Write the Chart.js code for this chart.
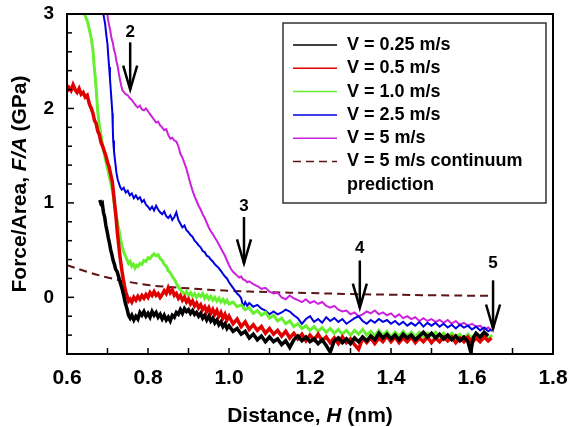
<!DOCTYPE html>
<html>
<head>
<meta charset="utf-8">
<script src="https://cdn.jsdelivr.net/npm/chart.js@4.4.1/dist/chart.umd.min.js"></script>
<style>
  html, body { margin: 0; padding: 0; background: #fff; }
  canvas { display: block; }
</style>
</head>
<body>
<canvas id="myChart" width="570" height="427"></canvas>
<script>
// H (nm), F/A (GPa)
const v025 = [[0.681,1.03],[0.684,0.99],[0.687,1.00],[0.690,0.90],[0.693,0.85],[0.696,0.76],[0.699,0.70],[0.702,0.63],[0.705,0.57],[0.708,0.50],[0.711,0.45],[0.714,0.39],[0.717,0.35],[0.720,0.30],[0.724,0.27],[0.728,0.21],[0.732,0.15],[0.736,0.09],[0.740,0.02],[0.744,-0.06],[0.748,-0.12],[0.752,-0.19],[0.756,-0.22],[0.760,-0.19],[0.765,-0.24],[0.770,-0.20],[0.775,-0.23],[0.780,-0.16],[0.785,-0.19],[0.790,-0.15],[0.795,-0.20],[0.800,-0.17],[0.805,-0.21],[0.810,-0.15],[0.815,-0.19],[0.820,-0.16],[0.825,-0.21],[0.830,-0.18],[0.835,-0.23],[0.840,-0.19],[0.845,-0.24],[0.850,-0.21],[0.855,-0.25],[0.860,-0.19],[0.865,-0.21],[0.870,-0.16],[0.875,-0.18],[0.880,-0.13],[0.885,-0.17],[0.890,-0.12],[0.895,-0.15],[0.900,-0.13],[0.905,-0.17],[0.910,-0.14],[0.915,-0.18],[0.920,-0.16],[0.925,-0.20],[0.930,-0.17],[0.935,-0.22],[0.940,-0.19],[0.945,-0.24],[0.950,-0.20],[0.955,-0.25],[0.960,-0.22],[0.965,-0.27],[0.970,-0.24],[0.975,-0.29],[0.980,-0.26],[0.985,-0.31],[0.990,-0.28],[0.995,-0.33],[1.000,-0.30],[1.010,-0.36],[1.020,-0.33],[1.030,-0.39],[1.040,-0.36],[1.050,-0.43],[1.060,-0.39],[1.070,-0.45],[1.080,-0.41],[1.090,-0.47],[1.100,-0.42],[1.110,-0.47],[1.120,-0.44],[1.130,-0.50],[1.140,-0.46],[1.150,-0.53],[1.160,-0.45],[1.170,-0.41],[1.180,-0.46],[1.190,-0.42],[1.200,-0.47],[1.210,-0.44],[1.220,-0.49],[1.230,-0.45],[1.240,-0.51],[1.250,-0.58],[1.260,-0.46],[1.270,-0.43],[1.280,-0.48],[1.290,-0.44],[1.300,-0.49],[1.310,-0.43],[1.320,-0.47],[1.330,-0.42],[1.340,-0.46],[1.350,-0.41],[1.360,-0.45],[1.370,-0.38],[1.380,-0.43],[1.390,-0.39],[1.400,-0.44],[1.410,-0.40],[1.420,-0.45],[1.430,-0.39],[1.440,-0.43],[1.450,-0.40],[1.460,-0.45],[1.470,-0.41],[1.480,-0.37],[1.490,-0.42],[1.500,-0.38],[1.510,-0.43],[1.520,-0.39],[1.530,-0.44],[1.540,-0.40],[1.550,-0.45],[1.560,-0.41],[1.570,-0.46],[1.580,-0.42],[1.590,-0.47],[1.597,-0.58],[1.603,-0.43],[1.610,-0.38],[1.620,-0.42],[1.630,-0.37],[1.640,-0.41]];

const v05 = [[0.600,2.18],[0.605,2.22],[0.610,2.19],[0.615,2.25],[0.620,2.20],[0.625,2.17],[0.630,2.21],[0.635,2.15],[0.640,2.17],[0.645,2.12],[0.650,2.14],[0.655,2.05],[0.660,2.00],[0.664,1.95],[0.668,1.87],[0.672,1.84],[0.676,1.76],[0.680,1.72],[0.684,1.64],[0.688,1.60],[0.692,1.55],[0.696,1.50],[0.700,1.43],[0.704,1.38],[0.708,1.30],[0.712,1.22],[0.715,1.10],[0.718,0.97],[0.721,0.85],[0.724,0.70],[0.727,0.58],[0.730,0.46],[0.733,0.36],[0.736,0.27],[0.739,0.19],[0.742,0.12],[0.745,0.06],[0.748,0.02],[0.752,-0.04],[0.756,-0.02],[0.760,-0.05],[0.765,0.00],[0.770,-0.03],[0.775,0.01],[0.780,-0.02],[0.785,0.02],[0.790,-0.01],[0.795,0.03],[0.800,0.00],[0.805,0.05],[0.810,0.02],[0.815,0.06],[0.820,0.02],[0.825,0.04],[0.830,0.00],[0.835,0.03],[0.840,0.07],[0.845,0.04],[0.850,0.10],[0.855,0.05],[0.860,0.08],[0.865,0.02],[0.870,0.04],[0.875,-0.01],[0.880,0.02],[0.885,-0.03],[0.890,0.00],[0.895,-0.05],[0.900,-0.02],[0.905,-0.07],[0.910,-0.04],[0.915,-0.09],[0.920,-0.06],[0.925,-0.11],[0.930,-0.08],[0.935,-0.13],[0.940,-0.10],[0.945,-0.15],[0.950,-0.11],[0.955,-0.17],[0.960,-0.13],[0.965,-0.18],[0.970,-0.14],[0.975,-0.20],[0.980,-0.16],[0.985,-0.22],[0.990,-0.18],[0.995,-0.24],[1.000,-0.20],[1.010,-0.28],[1.020,-0.23],[1.030,-0.31],[1.040,-0.26],[1.050,-0.34],[1.060,-0.29],[1.070,-0.35],[1.080,-0.31],[1.090,-0.38],[1.100,-0.33],[1.110,-0.39],[1.120,-0.35],[1.130,-0.41],[1.140,-0.36],[1.150,-0.43],[1.160,-0.38],[1.170,-0.44],[1.180,-0.39],[1.190,-0.46],[1.200,-0.40],[1.210,-0.45],[1.220,-0.39],[1.230,-0.46],[1.240,-0.42],[1.250,-0.48],[1.260,-0.43],[1.270,-0.49],[1.280,-0.42],[1.290,-0.48],[1.300,-0.44],[1.310,-0.50],[1.320,-0.55],[1.330,-0.43],[1.340,-0.48],[1.350,-0.43],[1.360,-0.49],[1.370,-0.43],[1.380,-0.47],[1.390,-0.41],[1.400,-0.47],[1.410,-0.42],[1.420,-0.48],[1.430,-0.43],[1.440,-0.47],[1.450,-0.42],[1.460,-0.48],[1.470,-0.43],[1.480,-0.47],[1.490,-0.42],[1.500,-0.48],[1.510,-0.43],[1.520,-0.47],[1.530,-0.42],[1.540,-0.46],[1.550,-0.42],[1.560,-0.48],[1.570,-0.43],[1.580,-0.47],[1.590,-0.42],[1.600,-0.48],[1.610,-0.43],[1.620,-0.47],[1.630,-0.42],[1.640,-0.46],[1.648,-0.43]];

const v10 = [[0.640,3.05],[0.645,2.98],[0.650,2.93],[0.655,2.84],[0.660,2.74],[0.664,2.62],[0.667,2.45],[0.670,2.32],[0.673,2.15],[0.676,1.96],[0.679,1.85],[0.682,1.76],[0.686,1.66],[0.690,1.56],[0.694,1.48],[0.698,1.40],[0.702,1.33],[0.706,1.25],[0.710,1.18],[0.714,1.08],[0.717,0.99],[0.720,0.92],[0.723,0.83],[0.726,0.76],[0.729,0.70],[0.732,0.62],[0.736,0.54],[0.740,0.48],[0.744,0.44],[0.748,0.40],[0.752,0.36],[0.756,0.38],[0.760,0.33],[0.764,0.35],[0.768,0.31],[0.772,0.34],[0.776,0.33],[0.780,0.36],[0.785,0.35],[0.790,0.39],[0.795,0.38],[0.800,0.42],[0.805,0.41],[0.810,0.44],[0.815,0.46],[0.820,0.44],[0.825,0.45],[0.830,0.41],[0.835,0.39],[0.840,0.35],[0.845,0.33],[0.850,0.28],[0.855,0.26],[0.860,0.22],[0.865,0.19],[0.870,0.15],[0.875,0.11],[0.880,0.08],[0.885,0.06],[0.890,0.03],[0.895,0.06],[0.900,0.02],[0.905,0.05],[0.910,0.01],[0.915,0.04],[0.920,0.00],[0.925,0.03],[0.930,0.01],[0.935,0.04],[0.940,-0.01],[0.945,0.02],[0.950,-0.02],[0.955,0.01],[0.960,-0.03],[0.965,0.00],[0.970,-0.04],[0.975,-0.01],[0.980,-0.05],[0.985,-0.02],[0.990,-0.06],[0.995,-0.03],[1.000,-0.07],[1.010,-0.05],[1.020,-0.10],[1.030,-0.08],[1.040,-0.13],[1.050,-0.11],[1.060,-0.17],[1.070,-0.14],[1.080,-0.19],[1.090,-0.16],[1.100,-0.22],[1.110,-0.19],[1.120,-0.25],[1.130,-0.22],[1.140,-0.28],[1.150,-0.25],[1.160,-0.31],[1.170,-0.28],[1.180,-0.33],[1.190,-0.30],[1.200,-0.35],[1.210,-0.31],[1.220,-0.36],[1.230,-0.32],[1.240,-0.37],[1.250,-0.33],[1.260,-0.38],[1.270,-0.34],[1.280,-0.39],[1.290,-0.35],[1.300,-0.40],[1.310,-0.35],[1.320,-0.39],[1.330,-0.34],[1.340,-0.40],[1.350,-0.36],[1.360,-0.41],[1.370,-0.35],[1.380,-0.40],[1.390,-0.36],[1.400,-0.42],[1.410,-0.37],[1.420,-0.41],[1.430,-0.36],[1.440,-0.41],[1.450,-0.37],[1.460,-0.42],[1.470,-0.37],[1.480,-0.42],[1.490,-0.38],[1.500,-0.41],[1.510,-0.37],[1.520,-0.42],[1.530,-0.38],[1.540,-0.43],[1.550,-0.38],[1.560,-0.42],[1.570,-0.39],[1.580,-0.44],[1.590,-0.39],[1.600,-0.43],[1.610,-0.38],[1.620,-0.43],[1.630,-0.39],[1.640,-0.44],[1.650,-0.40]];

const v25 = [[0.688,3.05],[0.691,2.97],[0.694,2.90],[0.697,2.78],[0.700,2.68],[0.702,2.55],[0.704,2.44],[0.706,2.32],[0.708,2.20],[0.710,2.08],[0.712,1.95],[0.713,1.80],[0.714,1.66],[0.716,1.55],[0.718,1.47],[0.720,1.40],[0.722,1.32],[0.725,1.25],[0.728,1.21],[0.731,1.17],[0.735,1.14],[0.740,1.16],[0.745,1.11],[0.750,1.13],[0.755,1.08],[0.760,1.10],[0.765,1.05],[0.770,1.08],[0.775,1.04],[0.780,1.06],[0.785,1.01],[0.790,1.03],[0.795,0.98],[0.800,0.96],[0.805,0.93],[0.810,0.96],[0.815,0.92],[0.820,0.97],[0.825,0.93],[0.830,0.90],[0.835,0.88],[0.840,0.91],[0.845,0.86],[0.850,0.84],[0.855,0.87],[0.860,0.82],[0.865,0.85],[0.870,0.90],[0.875,0.82],[0.880,0.78],[0.885,0.74],[0.890,0.76],[0.895,0.71],[0.900,0.69],[0.905,0.66],[0.910,0.64],[0.915,0.60],[0.920,0.58],[0.925,0.55],[0.930,0.53],[0.935,0.49],[0.940,0.48],[0.945,0.44],[0.950,0.43],[0.955,0.40],[0.960,0.38],[0.965,0.35],[0.970,0.33],[0.975,0.31],[0.980,0.28],[0.985,0.25],[0.990,0.22],[0.995,0.20],[1.000,0.16],[1.005,0.13],[1.010,0.10],[1.015,0.07],[1.020,0.04],[1.025,0.02],[1.030,-0.01],[1.035,-0.10],[1.040,-0.05],[1.045,-0.09],[1.050,-0.06],[1.060,-0.10],[1.070,-0.08],[1.080,-0.12],[1.090,-0.14],[1.100,-0.18],[1.110,-0.15],[1.120,-0.18],[1.130,-0.16],[1.140,-0.13],[1.150,-0.15],[1.160,-0.19],[1.170,-0.22],[1.180,-0.28],[1.190,-0.23],[1.200,-0.20],[1.210,-0.26],[1.220,-0.23],[1.230,-0.27],[1.240,-0.21],[1.250,-0.25],[1.260,-0.22],[1.270,-0.26],[1.280,-0.23],[1.290,-0.28],[1.300,-0.25],[1.310,-0.22],[1.320,-0.20],[1.330,-0.25],[1.340,-0.28],[1.350,-0.24],[1.360,-0.27],[1.370,-0.23],[1.380,-0.26],[1.390,-0.24],[1.400,-0.28],[1.410,-0.25],[1.420,-0.29],[1.430,-0.26],[1.440,-0.30],[1.450,-0.27],[1.460,-0.30],[1.470,-0.26],[1.480,-0.31],[1.490,-0.27],[1.500,-0.30],[1.510,-0.27],[1.520,-0.31],[1.530,-0.28],[1.540,-0.32],[1.550,-0.29],[1.560,-0.33],[1.570,-0.29],[1.580,-0.32],[1.590,-0.30],[1.600,-0.34],[1.610,-0.31],[1.620,-0.35],[1.630,-0.32],[1.640,-0.36],[1.648,-0.34]];

const v5 = [[0.698,3.05],[0.701,2.95],[0.704,2.88],[0.707,2.82],[0.710,2.74],[0.713,2.70],[0.716,2.62],[0.719,2.58],[0.722,2.50],[0.725,2.45],[0.728,2.37],[0.731,2.30],[0.734,2.24],[0.737,2.19],[0.741,2.17],[0.745,2.15],[0.750,2.14],[0.755,2.11],[0.760,2.09],[0.765,2.06],[0.770,2.03],[0.775,2.01],[0.780,2.03],[0.785,1.99],[0.790,1.98],[0.795,2.00],[0.800,1.97],[0.805,1.94],[0.810,1.91],[0.815,1.88],[0.820,1.85],[0.825,1.86],[0.830,1.82],[0.835,1.80],[0.840,1.77],[0.845,1.78],[0.850,1.72],[0.855,1.68],[0.860,1.69],[0.865,1.66],[0.870,1.65],[0.875,1.60],[0.880,1.52],[0.885,1.48],[0.890,1.42],[0.895,1.36],[0.900,1.28],[0.905,1.20],[0.910,1.13],[0.915,1.07],[0.920,1.02],[0.925,0.97],[0.930,0.93],[0.935,0.88],[0.940,0.84],[0.945,0.79],[0.950,0.74],[0.955,0.70],[0.960,0.67],[0.965,0.63],[0.970,0.60],[0.975,0.56],[0.980,0.52],[0.985,0.48],[0.990,0.44],[0.995,0.39],[1.000,0.34],[1.005,0.30],[1.010,0.27],[1.015,0.25],[1.020,0.23],[1.025,0.21],[1.030,0.22],[1.035,0.19],[1.040,0.18],[1.045,0.16],[1.050,0.17],[1.060,0.14],[1.070,0.12],[1.080,0.09],[1.090,0.10],[1.100,0.06],[1.110,0.04],[1.120,0.05],[1.130,0.00],[1.140,-0.02],[1.150,0.02],[1.160,-0.01],[1.170,-0.03],[1.180,-0.05],[1.190,-0.02],[1.200,-0.06],[1.210,-0.04],[1.220,-0.07],[1.230,-0.05],[1.240,-0.09],[1.250,-0.11],[1.260,-0.09],[1.270,-0.13],[1.280,-0.15],[1.290,-0.14],[1.300,-0.18],[1.310,-0.16],[1.320,-0.20],[1.330,-0.18],[1.340,-0.15],[1.350,-0.17],[1.360,-0.14],[1.370,-0.18],[1.380,-0.16],[1.390,-0.19],[1.400,-0.17],[1.410,-0.21],[1.420,-0.18],[1.430,-0.22],[1.440,-0.20],[1.450,-0.23],[1.460,-0.21],[1.470,-0.25],[1.480,-0.22],[1.490,-0.25],[1.500,-0.23],[1.510,-0.26],[1.520,-0.24],[1.530,-0.27],[1.540,-0.24],[1.550,-0.28],[1.560,-0.25],[1.570,-0.29],[1.580,-0.27],[1.590,-0.30],[1.600,-0.28],[1.610,-0.31],[1.620,-0.30],[1.630,-0.34],[1.640,-0.32],[1.650,-0.36]];

const continuum = [[0.60,0.34],[0.65,0.27],[0.70,0.21],[0.75,0.165],[0.80,0.13],[0.85,0.11],[0.90,0.095],[0.95,0.08],[1.00,0.07],[1.10,0.055],[1.20,0.045],[1.30,0.035],[1.40,0.028],[1.50,0.022],[1.65,0.015]];

const seriesLabels = [["V = 0.25 m/s"], ["V = 0.5 m/s"], ["V = 1.0 m/s"], ["V = 2.5 m/s"], ["V = 5 m/s"], ["V = 5 m/s continuum", "prediction"]];
const seriesColors = ["#000000", "#e00000", "#66f030", "#0000e0", "#cc22dd", "#5c1414"];

const xTickLabels = [0.6, 0.8, 1.0, 1.2, 1.4, 1.6, 1.8];
const yTickLabels = [0, 1, 2, 3];
const xTickMarks = [0.7, 0.8, 0.9, 1.0, 1.1, 1.2, 1.3, 1.4, 1.5, 1.6, 1.7];
const yTickMarks = [-0.4, -0.2, 0, 0.2, 0.4, 0.6, 0.8, 1, 1.2, 1.4, 1.6, 1.8, 2, 2.2, 2.4, 2.6, 2.8];

// arrows: label, H, label F, shaft top F, tip F
const arrowLabels = ["2", "3", "4", "5"];
const arrowH = [0.756, 1.037, 1.323, 1.652];
const arrowLabelF = [2.81, 0.96, 0.52, 0.36];
const arrowTopF = [2.70, 0.85, 0.39, 0.18];
const arrowTipF = [2.20, 0.36, -0.11, -0.33];

const FONT = '"Liberation Sans", Arial, sans-serif';

function pts(arr) {
  return arr.map(p => ({ x: p[0], y: p[1] }));
}

function drawParts(ctx, parts, cx, cy, size) {
  let total = 0;
  parts.forEach(p => {
    ctx.font = (p[1] ? "italic " : "") + "bold " + size + "px " + FONT;
    total += ctx.measureText(p[0]).width;
  });
  let xx = cx - total / 2;
  ctx.textAlign = "left";
  ctx.textBaseline = "middle";
  parts.forEach(p => {
    ctx.font = (p[1] ? "italic " : "") + "bold " + size + "px " + FONT;
    ctx.fillText(p[0], xx, cy);
    xx += ctx.measureText(p[0]).width;
  });
}

const extras = {
  id: "extras",
  afterDatasetsDraw(chart) {
    const { ctx, chartArea: ca, scales: { x, y } } = chart;
    ctx.save();
    ctx.strokeStyle = "#000";
    ctx.fillStyle = "#000";

    // frame
    ctx.lineWidth = 2;
    ctx.strokeRect(ca.left, ca.top, ca.right - ca.left, ca.bottom - ca.top);

    // inward ticks
    ctx.lineWidth = 1.5;
    xTickMarks.forEach(v => {
      const px = x.getPixelForValue(v);
      ctx.beginPath();
      ctx.moveTo(px, ca.bottom);
      ctx.lineTo(px, ca.bottom - 6);
      ctx.stroke();
    });
    yTickMarks.forEach(v => {
      const py = y.getPixelForValue(v);
      const len = Number.isInteger(v) ? 7 : 5;
      ctx.beginPath();
      ctx.moveTo(ca.left, py);
      ctx.lineTo(ca.left + len, py);
      ctx.stroke();
    });

    // arrows
    arrowLabels.forEach((lab, i) => {
      const px = x.getPixelForValue(arrowH[i]);
      const top = y.getPixelForValue(arrowTopF[i]);
      const tip = y.getPixelForValue(arrowTipF[i]);
      ctx.lineWidth = 2.5;
      ctx.beginPath();
      ctx.moveTo(px, top);
      ctx.lineTo(px, tip);
      ctx.stroke();
      ctx.beginPath();
      ctx.moveTo(px - 7, tip - 24);
      ctx.lineTo(px, tip);
      ctx.lineTo(px + 7, tip - 24);
      ctx.stroke();
      ctx.font = "bold 17px " + FONT;
      ctx.textAlign = "center";
      ctx.textBaseline = "middle";
      ctx.fillText(lab, px, y.getPixelForValue(arrowLabelF[i]));
    });

    // legend box
    const bx = ca.right - 270, by = ca.top + 9, bw = 263, bh = 180;
    ctx.fillStyle = "#fff";
    ctx.fillRect(bx, by, bw, bh);
    ctx.strokeStyle = "#333";
    ctx.lineWidth = 1.5;
    ctx.strokeRect(bx, by, bw, bh);
    ctx.fillStyle = "#000";
    ctx.font = "bold 18px " + FONT;
    ctx.textAlign = "left";
    ctx.textBaseline = "middle";
    let row = 0;
    chart.data.datasets.forEach((ds, i) => {
      const ry = by + 22 + row * 23.3;
      ctx.strokeStyle = ds.borderColor;
      ctx.lineWidth = 1.5;
      ctx.setLineDash(ds.borderDash || []);
      ctx.beginPath();
      ctx.moveTo(bx + 10, ry);
      ctx.lineTo(bx + 54, ry);
      ctx.stroke();
      ctx.setLineDash([]);
      seriesLabels[i].forEach((t, k) => {
        ctx.fillText(t, bx + 64, by + 22 + (row + k) * 23.3);
      });
      row += seriesLabels[i].length;
    });

    // axis titles
    ctx.fillStyle = "#000";
    drawParts(ctx, [["Distance, ", false], ["H", true], [" (nm)", false]], (ca.left + ca.right) / 2, 416, 21);
    ctx.save();
    ctx.translate(20, (ca.top + ca.bottom) / 2);
    ctx.rotate(-Math.PI / 2);
    drawParts(ctx, [["Force/Area, ", false], ["F/A", true], [" (GPa)", false]], 0, 0, 21);
    ctx.restore();

    ctx.restore();
  }
};

const allSeries = [v025, v05, v10, v25, v5, continuum];
const lineWidths = [3.5, 3.5, 3, 2, 2, 2];

const ctx = document.getElementById("myChart").getContext("2d");
const chart = new Chart(ctx, {
  type: "line",
  data: {
    datasets: allSeries.map((s, i) => ({
      label: seriesLabels[i].join(" "),
      data: pts(s),
      borderColor: seriesColors[i],
      borderWidth: lineWidths[i],
      borderDash: i === 5 ? [8, 5] : undefined,
      tension: i === 5 ? 0.4 : 0,
      pointRadius: 0,
      fill: false
    }))
  },
  options: {
    responsive: false,
    animation: false,
    layout: { padding: { top: 14, right: 17, left: 0, bottom: 0 } },
    plugins: { legend: { display: false }, tooltip: { enabled: false } },
    scales: {
      x: {
        type: "linear",
        min: 0.6,
        max: 1.8,
        afterBuildTicks: s => { s.ticks = xTickLabels.map(v => ({ value: v })); },
        afterFit: s => { s.height = 73; s.paddingLeft = 0; s.paddingRight = 0; },
        grid: { display: false, drawTicks: false },
        border: { display: false },
        ticks: {
          color: "#000",
          font: { family: FONT, size: 21, weight: "bold" },
          padding: 12,
          maxRotation: 0,
          callback: v => v.toFixed(1)
        }
      },
      y: {
        type: "linear",
        min: -0.6,
        max: 3,
        afterBuildTicks: s => { s.ticks = yTickLabels.map(v => ({ value: v })); },
        afterFit: s => { s.width = 67; s.paddingTop = 0; s.paddingBottom = 0; },
        grid: { display: false, drawTicks: false },
        border: { display: false },
        ticks: {
          color: "#000",
          font: { family: FONT, size: 19, weight: "bold" },
          padding: 13,
          callback: v => String(v)
        }
      }
    }
  },
  plugins: [extras]
});
</script>
</body>
</html>
